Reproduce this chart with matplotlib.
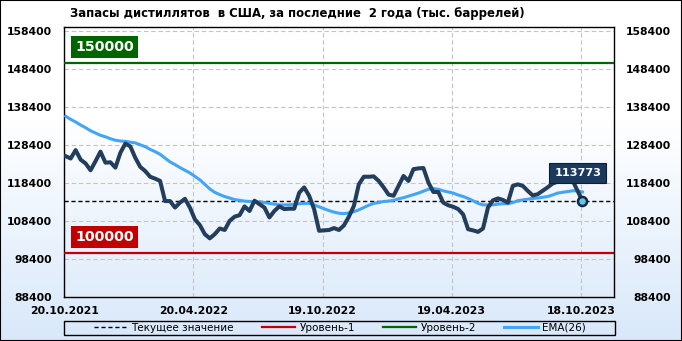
import numpy as np
import pandas as pd
import matplotlib
matplotlib.use('Agg')
import matplotlib.pyplot as plt
import matplotlib.dates as mdates
from matplotlib.patches import Rectangle

W, H = 682, 341

title = 'Запасы дистиллятов  в США, за последние  2 года (тыс. баррелей)'
first_week = '2021-10-22'

# weekly distillate stocks, thousand barrels
stocks = [125500, 124900, 127100, 124600, 123600, 121800, 124200, 126700, 123800, 123900,
          122500, 126400, 128800, 128100, 125100, 122700, 121600, 120100, 119600, 119000,
          113700, 113700, 112000, 113300, 114300, 112000, 108900, 107400, 105000, 103900,
          105000, 106500, 106100, 108500, 109600, 110000, 112300, 111100, 113800, 112900,
          112000, 109400, 111100, 112300, 111600, 111700, 111700, 115900, 117300, 115100,
          111600, 105900, 106000, 106100, 106600, 106100, 107300, 109600, 112400, 118100,
          120100, 120100, 120200, 119000, 117300, 115400, 115100, 117700, 120300, 119000,
          122100, 122300, 122400, 118600, 116100, 116100, 113300, 112600, 112200, 111600,
          110200, 106300, 106000, 105600, 106500, 112000, 113900, 114400, 114000, 113300,
          117700, 118100, 117700, 116400, 115200, 115500, 116400, 117300, 118300, 118800,
          119200, 119500, 119200, 116500, 113773]

ema26 = [136000, 135200, 134500, 133700, 133000, 132200, 131600, 131000, 130600, 130100,
         129700, 129500, 129400, 129200, 129000, 128500, 128000, 127300, 126700, 126000,
         125000, 124000, 123300, 122500, 121800, 121100, 120200, 119300, 118100, 116900,
         116000, 115400, 114900, 114500, 114100, 113900, 113700, 113600, 113500, 113500,
         113300, 113100, 112900, 112700, 112700, 112700, 112900, 113000, 113100, 113100,
         112700, 112200, 111700, 111200, 110800, 110500, 110400, 110600, 110900, 111400,
         112000, 112600, 113100, 113300, 113600, 113700, 113900, 114300, 114600, 115000,
         115400, 115800, 116300, 116800, 117000, 116800, 116400, 116100, 115800, 115300,
         114900, 114400, 113800, 113100, 112700, 112700, 112700, 112900, 113000, 113000,
         113300, 113800, 114000, 114200, 114400, 114500, 114700, 114900, 115300, 115800,
         116000, 116200, 116400, 116400, 116100]

level_1 = 100000
level_2 = 150000
tick_dates = ['2021-10-20', '2022-04-20', '2022-10-19', '2023-04-19', '2023-10-18']
y_ticks = list(range(88400, 158401, 10000))
legend_labels = ['Текущее значение', 'Уровень-1', 'Уровень-2', 'EMA(26)']

dates = pd.date_range(first_week, periods=len(stocks), freq='7D')
current = stocks[-1]

plt.rcParams['font.family'] = 'DejaVu Sans'

fig = plt.figure(figsize=(W / 100, H / 100), dpi=100)

# background: white on top fading to light blue at the bottom
bg = fig.add_axes([0, 0, 1, 1], zorder=-10)
g = np.clip((np.linspace(0, 1, 256) - 0.35) / 0.65, 0, 1)
top = np.array([1.0, 1.0, 1.0])
bottom = np.array([0.85, 0.91, 0.98])
img = top + g[:, None] * (bottom - top)
bg.imshow(img[:, None, :], aspect='auto', extent=[0, 1, 0, 1])
bg.axis('off')

ax = fig.add_axes([64.3 / W, 1 - 297.3 / H, 550 / W, 270 / H])
ax.set_facecolor('none')

x0 = pd.Timestamp(tick_dates[0])
ax.set_xlim(x0, x0 + pd.Timedelta(days=775))
ax.set_ylim(88400, 159400)

ax.set_yticks(y_ticks)
ax.set_xticks(pd.to_datetime(tick_dates))
ax.xaxis.set_major_formatter(mdates.DateFormatter('%d.%m.%Y'))
ax.grid(True, color='#c4c4c4', linestyle=(0, (4, 2.5)), linewidth=0.8)
ax.set_axisbelow(True)
ax.tick_params(length=0, labelsize=7.8, pad=8.9)
ax.tick_params(axis='x', pad=6)
for lbl in ax.get_xticklabels() + ax.get_yticklabels():
    lbl.set_fontweight('bold')
for s in ax.spines.values():
    s.set_linewidth(1)
    s.set_color('black')

ax2 = ax.twinx()
ax2.set_ylim(ax.get_ylim())
ax2.set_yticks(y_ticks)
ax2.tick_params(length=0, labelsize=7.8, pad=40.8)
for lbl in ax2.get_yticklabels():
    lbl.set_fontweight('bold')
    lbl.set_horizontalalignment('right')
for s in ax2.spines.values():
    s.set_visible(False)

cur_line = ax.axhline(current, color='black', linestyle=(0, (3, 2)), linewidth=1, zorder=3)
l1 = ax.axhline(level_1, color='#c00000', linewidth=1.6, zorder=3)
l2 = ax.axhline(level_2, color='#006400', linewidth=1.6, zorder=3)
ema_line, = ax.plot(dates, ema26, color='#42a5f5', linewidth=2.2, zorder=4)
ax.plot(dates, stocks, color='#233d5c', linewidth=2.9, zorder=5, solid_joinstyle='round')
ax.plot(dates[-1], current, 'o', ms=6.5, mfc='#6ec3da', mec='#0d2a4f', mew=1.8, zorder=7)

ax.annotate(f'{current}', xy=(dates[-1], current), xytext=(-4.5, 28),
            textcoords='offset pixels', ha='center', va='center',
            color='white', fontsize=8.1, fontweight='bold', zorder=8,
            bbox=dict(boxstyle='square,pad=0.45', fc='#1c3a5e', ec='#0b1f36', lw=0.8))

for lvl, col in [(level_1, '#c00000'), (level_2, '#006400')]:
    ax.text(0.073, lvl + 4200, f'{lvl}', transform=ax.get_yaxis_transform(),
            ha='center', va='center', color='white', fontsize=10.2, fontweight='bold',
            zorder=8, bbox=dict(boxstyle='square,pad=0.3', fc=col, ec='none'))

fig.text(69.6 / W, 1 - 13.3 / H, title, ha='left', va='center',
         fontsize=8.35, fontweight='bold')

fig.legend([cur_line, l1, l2, ema_line], legend_labels, loc='center',
           bbox_to_anchor=(339.7 / W, 1 - 327.8 / H), ncol=4, frameon=False,
           fontsize=7.5, handlelength=3.2, handletextpad=0.4, columnspacing=2.7,
           borderpad=0, borderaxespad=0)
fig.add_artist(Rectangle((64.3 / W, 1 - 335 / H), 550.7 / W, 14.3 / H,
                         transform=fig.transFigure, fill=False, ec='black', lw=1))
fig.add_artist(Rectangle((0, 0), 1, 1, transform=fig.transFigure,
                         fill=False, ec='black', lw=1.5))

fig.savefig('out.png', dpi=100)
